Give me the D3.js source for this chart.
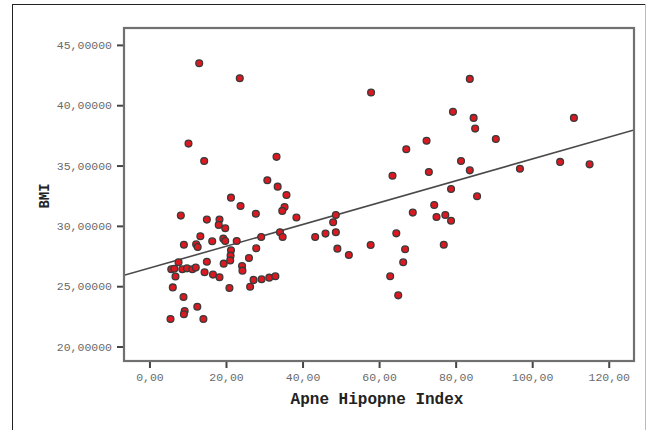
<!DOCTYPE html>
<html>
<head>
<meta charset="utf-8">
<script src="https://cdn.jsdelivr.net/npm/d3@7"></script>
<style>
  body { margin: 0; background: #fff; }
  .tick text { font-family: "Liberation Mono", "Courier New", monospace; font-size: 11.5px; fill: #6a6a6a; }
  .axistext { font-family: "Liberation Mono", "Courier New", monospace; font-weight: bold; fill: #222; }
</style>
</head>
<body>
<div id="chart"></div>
<script>
// Apne Hipopne Index (x) and BMI (y)
var ahi = [13.0, 23.6, 57.9, 83.7, 79.3, 84.7, 85.1, 110.9, 90.5, 10.2,
    72.4, 67.1, 33.2, 14.3, 81.4, 83.7, 73.0, 63.5, 96.8, 107.3,
    115.0, 30.8, 33.5, 78.8, 35.8, 85.6, 21.3, 23.8, 35.3, 34.7,
    74.4, 27.8, 68.8, 8.2, 38.4, 15.0, 18.3, 18.1, 19.8, 75.0,
    77.3, 78.8, 48.0, 48.7, 13.3, 19.3, 19.8, 22.8, 29.2, 34.1,
    34.8, 43.3, 46.0, 48.7, 64.5, 57.8, 76.9, 9.0, 12.2, 12.6,
    16.4, 21.3, 27.9, 49.1, 66.8, 52.1, 21.2, 21.1, 26.0, 15.0,
    7.6, 19.4, 24.2, 66.3, 5.7, 6.5, 8.6, 9.8, 11.2, 12.1,
    14.4, 24.3, 16.6, 6.8, 18.3, 27.2, 29.3, 31.3, 32.9, 62.9,
    26.3, 6.1, 20.9, 65.0, 8.9, 12.5, 9.2, 9.0, 5.5, 14.1];
var bmi = [43.48, 42.24, 41.05, 42.18, 39.45, 38.95, 38.06, 38.95, 37.20, 36.82,
    37.05, 36.35, 35.72, 35.38, 35.38, 34.60, 34.47, 34.16, 34.74, 35.30,
    35.10, 33.78, 33.25, 33.06, 32.56, 32.45, 32.34, 31.65, 31.57, 31.24,
    31.73, 31.01, 31.10, 30.85, 30.69, 30.52, 30.52, 30.08, 29.80, 30.74,
    30.90, 30.43, 30.30, 30.90, 29.14, 28.94, 28.75, 28.75, 29.08, 29.47,
    29.08, 29.08, 29.36, 29.47, 29.38, 28.42, 28.44, 28.44, 28.47, 28.25,
    28.72, 27.97, 28.14, 28.11, 28.06, 27.59, 27.53, 27.14, 27.34, 27.03,
    26.98, 26.87, 26.67, 26.98, 26.40, 26.45, 26.40, 26.48, 26.40, 26.54,
    26.15, 26.29, 25.96, 25.80, 25.74, 25.52, 25.57, 25.71, 25.82, 25.82,
    24.96, 24.90, 24.85, 24.24, 24.10, 23.30, 22.94, 22.67, 22.28, 22.28];

var xTicks = [0, 20, 40, 60, 80, 100, 120];
var yTicks = [20, 25, 30, 35, 40, 45];
var fit = {intercept: 26.5, slope: 0.0904};

var W = 647, H = 430;
var margin = {top: 28, right: 13, bottom: 69, left: 124},
    width = W - margin.left - margin.right,
    height = H - margin.top - margin.bottom;

var loc = d3.formatLocale({decimal: ",", thousands: ".", grouping: [3], currency: ["", ""]});

var x = d3.scaleLinear().domain([-6.65, 126.6]).range([0, width]);
var y = d3.scaleLinear().domain([18.8, 46.4]).range([height, 0]);

var svg = d3.select("#chart").append("svg")
    .attr("width", W)
    .attr("height", H);

// outer frame
svg.append("rect")
    .attr("x", 12.5).attr("y", 4.5)
    .attr("width", 633).attr("height", 440)
    .style("fill", "none").style("stroke", "#222").style("stroke-width", 1);
svg.append("line")
    .attr("x1", 645.5).attr("x2", 645.5).attr("y1", 4).attr("y2", H)
    .style("stroke", "#bbb");

var g = svg.append("g")
    .attr("transform", "translate(" + margin.left + "," + margin.top + ")");

g.append("clipPath").attr("id", "clip")
    .append("rect").attr("width", width).attr("height", height);

// regression line
g.append("line")
    .attr("clip-path", "url(#clip)")
    .attr("x1", x(-6.65)).attr("x2", x(126.6))
    .attr("y1", y(fit.intercept + fit.slope * -6.65))
    .attr("y2", y(fit.intercept + fit.slope * 126.6))
    .style("stroke", "#4a4a4a").style("stroke-width", 1.6);

// points
g.selectAll("circle")
    .data(ahi)
    .enter().append("circle")
    .attr("cx", function (d) { return x(d); })
    .attr("cy", function (d, i) { return y(bmi[i]); })
    .attr("r", 3.4)
    .style("fill", "#dc1820")
    .style("stroke", "#3a3a3a")
    .style("stroke-width", 1.3);

// axes
var xAxis = g.append("g")
    .attr("transform", "translate(0," + height + ")")
    .call(d3.axisBottom(x).tickValues(xTicks).tickSize(7).tickPadding(5).tickFormat(loc.format(".2f")));
var yAxis = g.append("g")
    .call(d3.axisLeft(y).tickValues(yTicks).tickSize(7).tickPadding(5).tickFormat(loc.format(".5f")));

[xAxis, yAxis].forEach(function (a) {
    a.select(".domain").remove();
    a.selectAll(".tick line").style("stroke", "#444").style("stroke-width", 2);
});

// plot frame
g.append("rect")
    .attr("width", width).attr("height", height)
    .style("fill", "none").style("stroke", "#707070").style("stroke-width", 2.2);

// axis titles
svg.append("text")
    .attr("class", "axistext")
    .attr("x", 377).attr("y", 404)
    .style("text-anchor", "middle").style("font-size", "16px")
    .text("Apne Hipopne Index");

svg.append("text")
    .attr("class", "axistext")
    .attr("transform", "translate(49,196) rotate(-90)")
    .style("text-anchor", "middle").style("font-size", "14px")
    .text("BMI");
</script>
</body>
</html>
